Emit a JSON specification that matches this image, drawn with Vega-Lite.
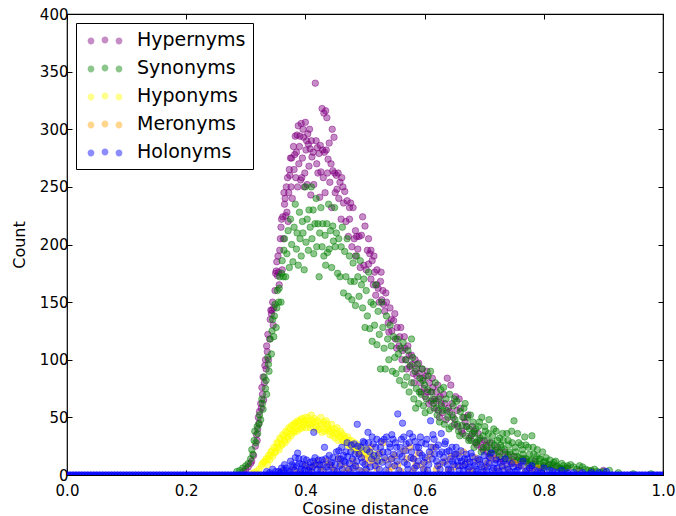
{"$schema":"https://vega.github.io/schema/vega-lite/v6.json","width":596,"height":461,"padding":{"left":67,"top":14,"right":13,"bottom":41},"autosize":{"type":"none"},"background":"white",
"config":{"view":{"stroke":"black","strokeWidth":1.2},"font":"DejaVu Sans","axis":{"grid":false,"domain":false,"tickColor":"black","tickSize":-5,"tickWidth":1,"labelColor":"black","titleColor":"black","labelFontSize":15,"titleFontSize":16,"titleFontWeight":"normal","labelPadding":13,"labelFlush":false,"labelFont":"DejaVu Sans","titleFont":"DejaVu Sans"}},
"resolve":{"axis":{"x":"independent","y":"independent"}},
"datasets":{
"base":[{"x":0,"y":0},{"x":0.005,"y":0},{"x":0.01,"y":0},{"x":0.015,"y":0},{"x":0.02,"y":0},{"x":0.025,"y":0},{"x":0.03,"y":0},{"x":0.035,"y":0},{"x":0.04,"y":0},{"x":0.045,"y":0},{"x":0.05,"y":0},{"x":0.055,"y":0},{"x":0.06,"y":0},{"x":0.065,"y":0},{"x":0.07,"y":0},{"x":0.075,"y":0},{"x":0.08,"y":0},{"x":0.085,"y":0},{"x":0.09,"y":0},{"x":0.095,"y":0},{"x":0.1,"y":0},{"x":0.105,"y":0},{"x":0.11,"y":0},{"x":0.115,"y":0},{"x":0.12,"y":0},{"x":0.125,"y":0},{"x":0.13,"y":0},{"x":0.135,"y":0},{"x":0.14,"y":0},{"x":0.145,"y":0},{"x":0.15,"y":0},{"x":0.155,"y":0},{"x":0.16,"y":0},{"x":0.165,"y":0},{"x":0.17,"y":0},{"x":0.175,"y":0},{"x":0.18,"y":0},{"x":0.185,"y":0},{"x":0.19,"y":0},{"x":0.195,"y":0},{"x":0.2,"y":0},{"x":0.205,"y":0},{"x":0.21,"y":0},{"x":0.215,"y":0},{"x":0.22,"y":0},{"x":0.225,"y":0},{"x":0.23,"y":0},{"x":0.235,"y":0},{"x":0.24,"y":0},{"x":0.245,"y":0},{"x":0.25,"y":0},{"x":0.255,"y":0},{"x":0.26,"y":0},{"x":0.265,"y":0},{"x":0.27,"y":0},{"x":0.275,"y":0},{"x":0.28,"y":0},{"x":0.285,"y":0},{"x":0.29,"y":0},{"x":0.295,"y":0},{"x":0.3,"y":0},{"x":0.305,"y":0},{"x":0.31,"y":0},{"x":0.315,"y":0},{"x":0.32,"y":0},{"x":0.325,"y":0},{"x":0.33,"y":0},{"x":0.335,"y":0},{"x":0.34,"y":0},{"x":0.345,"y":0},{"x":0.35,"y":0},{"x":0.355,"y":0},{"x":0.36,"y":0},{"x":0.365,"y":0},{"x":0.37,"y":0},{"x":0.375,"y":0},{"x":0.38,"y":0},{"x":0.385,"y":0},{"x":0.39,"y":0},{"x":0.395,"y":0},{"x":0.4,"y":0},{"x":0.405,"y":0},{"x":0.41,"y":0},{"x":0.415,"y":0},{"x":0.42,"y":0},{"x":0.425,"y":0},{"x":0.43,"y":0},{"x":0.435,"y":0},{"x":0.44,"y":0},{"x":0.445,"y":0},{"x":0.45,"y":0},{"x":0.455,"y":0},{"x":0.46,"y":0},{"x":0.465,"y":0},{"x":0.47,"y":0},{"x":0.475,"y":0},{"x":0.48,"y":0},{"x":0.485,"y":0},{"x":0.49,"y":0},{"x":0.495,"y":0},{"x":0.5,"y":0},{"x":0.505,"y":0},{"x":0.51,"y":0},{"x":0.515,"y":0},{"x":0.52,"y":0},{"x":0.525,"y":0},{"x":0.53,"y":0},{"x":0.535,"y":0},{"x":0.54,"y":0},{"x":0.545,"y":0},{"x":0.55,"y":0},{"x":0.555,"y":0},{"x":0.56,"y":0},{"x":0.565,"y":0},{"x":0.57,"y":0},{"x":0.575,"y":0},{"x":0.58,"y":0},{"x":0.585,"y":0},{"x":0.59,"y":0},{"x":0.595,"y":0},{"x":0.6,"y":0},{"x":0.605,"y":0},{"x":0.61,"y":0},{"x":0.615,"y":0},{"x":0.62,"y":0},{"x":0.625,"y":0},{"x":0.63,"y":0},{"x":0.635,"y":0},{"x":0.64,"y":0},{"x":0.645,"y":0},{"x":0.65,"y":0},{"x":0.655,"y":0},{"x":0.66,"y":0},{"x":0.665,"y":0},{"x":0.67,"y":0},{"x":0.675,"y":0},{"x":0.68,"y":0},{"x":0.685,"y":0},{"x":0.69,"y":0},{"x":0.695,"y":0},{"x":0.7,"y":0},{"x":0.705,"y":0},{"x":0.71,"y":0},{"x":0.715,"y":0},{"x":0.72,"y":0},{"x":0.725,"y":0},{"x":0.73,"y":0},{"x":0.735,"y":0},{"x":0.74,"y":0},{"x":0.745,"y":0},{"x":0.75,"y":0},{"x":0.755,"y":0},{"x":0.76,"y":0},{"x":0.765,"y":0},{"x":0.77,"y":0},{"x":0.775,"y":0},{"x":0.78,"y":0},{"x":0.785,"y":0},{"x":0.79,"y":0},{"x":0.795,"y":0},{"x":0.8,"y":0},{"x":0.805,"y":0},{"x":0.81,"y":0},{"x":0.815,"y":0},{"x":0.82,"y":0},{"x":0.825,"y":0},{"x":0.83,"y":0},{"x":0.835,"y":0},{"x":0.84,"y":0},{"x":0.845,"y":0},{"x":0.85,"y":0},{"x":0.855,"y":0},{"x":0.86,"y":0},{"x":0.865,"y":0},{"x":0.87,"y":0},{"x":0.875,"y":0},{"x":0.88,"y":0},{"x":0.885,"y":0},{"x":0.89,"y":0},{"x":0.895,"y":0},{"x":0.9,"y":0},{"x":0.905,"y":0},{"x":0.91,"y":0},{"x":0.915,"y":0},{"x":0.92,"y":0},{"x":0.925,"y":0},{"x":0.93,"y":0},{"x":0.935,"y":0},{"x":0.94,"y":0},{"x":0.945,"y":0},{"x":0.95,"y":0},{"x":0.955,"y":0},{"x":0.96,"y":0},{"x":0.965,"y":0},{"x":0.97,"y":0},{"x":0.975,"y":0},{"x":0.98,"y":0},{"x":0.985,"y":0},{"x":0.99,"y":0},{"x":0.995,"y":0},{"x":1,"y":0}],
"pur":[{"x":0.296,"y":3},{"x":0.3,"y":5},{"x":0.304,"y":7},{"x":0.308,"y":10},{"x":0.31,"y":12},{"x":0.313,"y":17},{"x":0.316,"y":25},{"x":0.318,"y":35},{"x":0.319,"y":30},{"x":0.32,"y":40},{"x":0.322,"y":45},{"x":0.323,"y":55},{"x":0.325,"y":62},{"x":0.326,"y":58},{"x":0.328,"y":70},{"x":0.329,"y":85},{"x":0.33,"y":65},{"x":0.331,"y":80},{"x":0.333,"y":100},{"x":0.334,"y":92},{"x":0.336,"y":107},{"x":0.337,"y":122},{"x":0.338,"y":100},{"x":0.34,"y":118},{"x":0.342,"y":143},{"x":0.343,"y":140},{"x":0.344,"y":143},{"x":0.346,"y":130},{"x":0.347,"y":145},{"x":0.349,"y":160},{"x":0.35,"y":175},{"x":0.351,"y":177},{"x":0.353,"y":173},{"x":0.354,"y":190},{"x":0.356,"y":165},{"x":0.357,"y":195},{"x":0.358,"y":205},{"x":0.36,"y":222},{"x":0.361,"y":178},{"x":0.362,"y":224},{"x":0.363,"y":205},{"x":0.364,"y":245},{"x":0.365,"y":235},{"x":0.366,"y":240},{"x":0.367,"y":225},{"x":0.368,"y":250},{"x":0.369,"y":228},{"x":0.37,"y":258},{"x":0.371,"y":220},{"x":0.372,"y":245},{"x":0.373,"y":265},{"x":0.374,"y":260},{"x":0.375,"y":275},{"x":0.376,"y":250},{"x":0.377,"y":275},{"x":0.378,"y":240},{"x":0.38,"y":285},{"x":0.381,"y":265},{"x":0.382,"y":278},{"x":0.383,"y":294},{"x":0.384,"y":258},{"x":0.385,"y":280},{"x":0.386,"y":295},{"x":0.387,"y":250},{"x":0.388,"y":303},{"x":0.389,"y":270},{"x":0.39,"y":285},{"x":0.391,"y":294},{"x":0.392,"y":256},{"x":0.393,"y":305},{"x":0.394,"y":258},{"x":0.395,"y":275},{"x":0.396,"y":300},{"x":0.397,"y":293},{"x":0.398,"y":250},{"x":0.399,"y":262},{"x":0.4,"y":306},{"x":0.401,"y":282},{"x":0.402,"y":290},{"x":0.403,"y":252},{"x":0.404,"y":296},{"x":0.405,"y":287},{"x":0.406,"y":268},{"x":0.407,"y":300},{"x":0.408,"y":283},{"x":0.409,"y":243},{"x":0.41,"y":290},{"x":0.411,"y":276},{"x":0.413,"y":280},{"x":0.414,"y":252},{"x":0.4166,"y":340},{"x":0.418,"y":290},{"x":0.419,"y":270},{"x":0.42,"y":284},{"x":0.421,"y":262},{"x":0.423,"y":279},{"x":0.424,"y":241},{"x":0.425,"y":286},{"x":0.426,"y":263},{"x":0.428,"y":318},{"x":0.429,"y":282},{"x":0.43,"y":258},{"x":0.431,"y":314},{"x":0.432,"y":280},{"x":0.433,"y":245},{"x":0.434,"y":316},{"x":0.435,"y":282},{"x":0.436,"y":310},{"x":0.437,"y":262},{"x":0.438,"y":274},{"x":0.44,"y":288},{"x":0.441,"y":254},{"x":0.443,"y":270},{"x":0.444,"y":232},{"x":0.445,"y":300},{"x":0.446,"y":264},{"x":0.448,"y":293},{"x":0.449,"y":262},{"x":0.45,"y":245},{"x":0.452,"y":260},{"x":0.453,"y":248},{"x":0.455,"y":262},{"x":0.456,"y":240},{"x":0.458,"y":254},{"x":0.46,"y":222},{"x":0.461,"y":258},{"x":0.463,"y":250},{"x":0.464,"y":236},{"x":0.466,"y":246},{"x":0.468,"y":220},{"x":0.47,"y":238},{"x":0.472,"y":207},{"x":0.474,"y":232},{"x":0.476,"y":236},{"x":0.478,"y":198},{"x":0.48,"y":232},{"x":0.482,"y":205},{"x":0.484,"y":190},{"x":0.486,"y":207},{"x":0.488,"y":196},{"x":0.49,"y":207},{"x":0.492,"y":180},{"x":0.494,"y":208},{"x":0.496,"y":224},{"x":0.498,"y":182},{"x":0.5,"y":216},{"x":0.502,"y":178},{"x":0.504,"y":195},{"x":0.506,"y":183},{"x":0.508,"y":192},{"x":0.51,"y":170},{"x":0.512,"y":186},{"x":0.514,"y":165},{"x":0.516,"y":176},{"x":0.518,"y":156},{"x":0.52,"y":178},{"x":0.522,"y":162},{"x":0.524,"y":150},{"x":0.526,"y":168},{"x":0.528,"y":152},{"x":0.53,"y":160},{"x":0.533,"y":142},{"x":0.536,"y":150},{"x":0.539,"y":132},{"x":0.542,"y":145},{"x":0.545,"y":125},{"x":0.548,"y":134},{"x":0.551,"y":118},{"x":0.554,"y":128},{"x":0.557,"y":112},{"x":0.56,"y":128},{"x":0.563,"y":108},{"x":0.566,"y":120},{"x":0.569,"y":100},{"x":0.572,"y":112},{"x":0.575,"y":94},{"x":0.578,"y":104},{"x":0.581,"y":88},{"x":0.584,"y":100},{"x":0.587,"y":86},{"x":0.59,"y":97},{"x":0.593,"y":80},{"x":0.596,"y":92},{"x":0.599,"y":75},{"x":0.602,"y":86},{"x":0.605,"y":72},{"x":0.608,"y":80},{"x":0.611,"y":64},{"x":0.614,"y":76},{"x":0.617,"y":66},{"x":0.62,"y":72},{"x":0.623,"y":56},{"x":0.626,"y":68},{"x":0.63,"y":54},{"x":0.634,"y":62},{"x":0.638,"y":84},{"x":0.642,"y":55},{"x":0.646,"y":62},{"x":0.65,"y":44},{"x":0.654,"y":56},{"x":0.658,"y":66},{"x":0.662,"y":38},{"x":0.666,"y":50},{"x":0.67,"y":42},{"x":0.675,"y":32},{"x":0.68,"y":42},{"x":0.685,"y":28},{"x":0.69,"y":36},{"x":0.695,"y":24},{"x":0.7,"y":30},{"x":0.705,"y":20},{"x":0.71,"y":28},{"x":0.716,"y":18},{"x":0.722,"y":24},{"x":0.728,"y":14},{"x":0.735,"y":20},{"x":0.742,"y":12},{"x":0.75,"y":16},{"x":0.758,"y":9},{"x":0.765,"y":14},{"x":0.775,"y":8},{"x":0.785,"y":12},{"x":0.795,"y":6},{"x":0.81,"y":9},{"x":0.83,"y":5},{"x":0.86,"y":4},{"x":0.9,"y":4},
{"x":0.321,"y":50},{"x":0.327,"y":76},{"x":0.332,"y":95},{"x":0.335,"y":112},{"x":0.341,"y":135},{"x":0.345,"y":150},{"x":0.352,"y":185},{"x":0.355,"y":176},{"x":0.359,"y":215},{"x":0.474,"y":222},{"x":0.484,"y":212},{"x":0.506,"y":205},{"x":0.51,"y":195},{"x":0.515,"y":190},{"x":0.52,"y":165},{"x":0.527,"y":176},{"x":0.531,"y":148},{"x":0.535,"y":158},{"x":0.54,"y":124},{"x":0.544,"y":135},{"x":0.55,"y":140},{"x":0.553,"y":110},{"x":0.558,"y":120},{"x":0.562,"y":100},{"x":0.567,"y":110},{"x":0.57,"y":92},{"x":0.574,"y":104},{"x":0.579,"y":96},{"x":0.582,"y":80},{"x":0.586,"y":92},{"x":0.591,"y":88},{"x":0.594,"y":72},{"x":0.598,"y":84},{"x":0.601,"y":68},{"x":0.604,"y":90},{"x":0.607,"y":62},{"x":0.61,"y":72},{"x":0.613,"y":84},{"x":0.616,"y":58},{"x":0.619,"y":64},{"x":0.622,"y":78},{"x":0.625,"y":50},{"x":0.628,"y":62},{"x":0.632,"y":70},{"x":0.636,"y":48},{"x":0.64,"y":58},{"x":0.644,"y":78},{"x":0.648,"y":50},{"x":0.652,"y":68},{"x":0.656,"y":42},{"x":0.66,"y":58},{"x":0.664,"y":36},{"x":0.668,"y":46},{"x":0.673,"y":52},{"x":0.678,"y":34},{"x":0.683,"y":38},{"x":0.688,"y":26},{"x":0.693,"y":30},{"x":0.698,"y":22},{"x":0.703,"y":26},{"x":0.708,"y":16},{"x":0.713,"y":22},{"x":0.72,"y":14},{"x":0.726,"y":20},{"x":0.732,"y":12},{"x":0.74,"y":17},{"x":0.748,"y":11},{"x":0.756,"y":13},{"x":0.77,"y":12},{"x":0.78,"y":6},{"x":0.8,"y":8},{"x":0.82,"y":7},{"x":0.84,"y":6},{"x":0.88,"y":3}],
"grn":[{"x":0.285,"y":3},{"x":0.29,"y":4},{"x":0.295,"y":6},{"x":0.3,"y":8},{"x":0.304,"y":10},{"x":0.308,"y":14},{"x":0.31,"y":22},{"x":0.312,"y":18},{"x":0.315,"y":38},{"x":0.317,"y":28},{"x":0.319,"y":42},{"x":0.32,"y":36},{"x":0.323,"y":52},{"x":0.325,"y":48},{"x":0.327,"y":66},{"x":0.329,"y":57},{"x":0.331,"y":85},{"x":0.333,"y":75},{"x":0.335,"y":70},{"x":0.337,"y":102},{"x":0.339,"y":90},{"x":0.341,"y":118},{"x":0.343,"y":105},{"x":0.345,"y":135},{"x":0.347,"y":120},{"x":0.349,"y":148},{"x":0.351,"y":128},{"x":0.353,"y":160},{"x":0.355,"y":150},{"x":0.357,"y":172},{"x":0.359,"y":150},{"x":0.361,"y":186},{"x":0.363,"y":172},{"x":0.365,"y":205},{"x":0.367,"y":172},{"x":0.369,"y":192},{"x":0.371,"y":212},{"x":0.373,"y":180},{"x":0.375,"y":222},{"x":0.377,"y":200},{"x":0.379,"y":185},{"x":0.381,"y":215},{"x":0.383,"y":235},{"x":0.385,"y":196},{"x":0.386,"y":210},{"x":0.388,"y":182},{"x":0.39,"y":228},{"x":0.391,"y":205},{"x":0.393,"y":190},{"x":0.395,"y":220},{"x":0.396,"y":210},{"x":0.398,"y":178},{"x":0.4,"y":250},{"x":0.401,"y":202},{"x":0.403,"y":222},{"x":0.405,"y":195},{"x":0.406,"y":230},{"x":0.408,"y":215},{"x":0.41,"y":250},{"x":0.411,"y":205},{"x":0.413,"y":230},{"x":0.414,"y":192},{"x":0.416,"y":218},{"x":0.418,"y":240},{"x":0.419,"y":198},{"x":0.421,"y":218},{"x":0.423,"y":172},{"x":0.424,"y":210},{"x":0.426,"y":232},{"x":0.428,"y":198},{"x":0.429,"y":218},{"x":0.431,"y":190},{"x":0.433,"y":208},{"x":0.434,"y":182},{"x":0.436,"y":218},{"x":0.437,"y":193},{"x":0.439,"y":235},{"x":0.44,"y":196},{"x":0.442,"y":212},{"x":0.444,"y":180},{"x":0.446,"y":216},{"x":0.447,"y":203},{"x":0.449,"y":232},{"x":0.45,"y":198},{"x":0.452,"y":210},{"x":0.454,"y":175},{"x":0.456,"y":205},{"x":0.458,"y":172},{"x":0.46,"y":198},{"x":0.462,"y":215},{"x":0.464,"y":158},{"x":0.466,"y":194},{"x":0.468,"y":172},{"x":0.47,"y":205},{"x":0.472,"y":155},{"x":0.474,"y":190},{"x":0.476,"y":168},{"x":0.478,"y":152},{"x":0.48,"y":184},{"x":0.482,"y":168},{"x":0.484,"y":147},{"x":0.486,"y":190},{"x":0.488,"y":172},{"x":0.49,"y":155},{"x":0.492,"y":186},{"x":0.494,"y":165},{"x":0.496,"y":145},{"x":0.498,"y":170},{"x":0.5,"y":128},{"x":0.502,"y":160},{"x":0.504,"y":138},{"x":0.506,"y":176},{"x":0.508,"y":127},{"x":0.51,"y":150},{"x":0.512,"y":116},{"x":0.514,"y":148},{"x":0.516,"y":130},{"x":0.518,"y":165},{"x":0.52,"y":113},{"x":0.522,"y":142},{"x":0.524,"y":122},{"x":0.526,"y":92},{"x":0.528,"y":150},{"x":0.53,"y":128},{"x":0.532,"y":110},{"x":0.534,"y":92},{"x":0.536,"y":138},{"x":0.538,"y":118},{"x":0.54,"y":100},{"x":0.542,"y":130},{"x":0.544,"y":112},{"x":0.546,"y":90},{"x":0.548,"y":120},{"x":0.55,"y":102},{"x":0.552,"y":88},{"x":0.554,"y":118},{"x":0.556,"y":105},{"x":0.558,"y":82},{"x":0.56,"y":110},{"x":0.562,"y":92},{"x":0.564,"y":115},{"x":0.566,"y":78},{"x":0.568,"y":100},{"x":0.57,"y":85},{"x":0.572,"y":108},{"x":0.574,"y":72},{"x":0.576,"y":95},{"x":0.578,"y":80},{"x":0.58,"y":102},{"x":0.582,"y":66},{"x":0.584,"y":90},{"x":0.586,"y":75},{"x":0.588,"y":96},{"x":0.59,"y":62},{"x":0.592,"y":84},{"x":0.594,"y":70},{"x":0.596,"y":92},{"x":0.598,"y":60},{"x":0.6,"y":78},{"x":0.603,"y":66},{"x":0.606,"y":86},{"x":0.609,"y":56},{"x":0.612,"y":72},{"x":0.615,"y":62},{"x":0.618,"y":80},{"x":0.621,"y":52},{"x":0.624,"y":66},{"x":0.627,"y":74},{"x":0.63,"y":56},{"x":0.633,"y":44},{"x":0.636,"y":66},{"x":0.639,"y":50},{"x":0.642,"y":70},{"x":0.645,"y":42},{"x":0.648,"y":60},{"x":0.651,"y":48},{"x":0.654,"y":64},{"x":0.657,"y":38},{"x":0.66,"y":55},{"x":0.663,"y":43},{"x":0.666,"y":58},{"x":0.669,"y":34},{"x":0.672,"y":50},{"x":0.675,"y":40},{"x":0.678,"y":30},{"x":0.681,"y":46},{"x":0.684,"y":36},{"x":0.687,"y":28},{"x":0.69,"y":42},{"x":0.693,"y":32},{"x":0.696,"y":50},{"x":0.699,"y":24},{"x":0.702,"y":38},{"x":0.705,"y":30},{"x":0.708,"y":48},{"x":0.711,"y":22},{"x":0.714,"y":34},{"x":0.717,"y":26},{"x":0.72,"y":38},{"x":0.723,"y":20},{"x":0.726,"y":32},{"x":0.729,"y":24},{"x":0.732,"y":30},{"x":0.735,"y":18},{"x":0.738,"y":36},{"x":0.741,"y":26},{"x":0.744,"y":18},{"x":0.747,"y":28},{"x":0.75,"y":47},{"x":0.753,"y":20},{"x":0.756,"y":36},{"x":0.759,"y":15},{"x":0.762,"y":26},{"x":0.765,"y":18},{"x":0.768,"y":33},{"x":0.771,"y":14},{"x":0.774,"y":24},{"x":0.777,"y":12},{"x":0.78,"y":34},{"x":0.783,"y":18},{"x":0.786,"y":10},{"x":0.789,"y":22},{"x":0.792,"y":14},{"x":0.795,"y":8},{"x":0.798,"y":20},{"x":0.802,"y":12},{"x":0.806,"y":7},{"x":0.81,"y":13},{"x":0.815,"y":9},{"x":0.82,"y":12},{"x":0.825,"y":6},{"x":0.83,"y":10},{"x":0.835,"y":5},{"x":0.84,"y":8},{"x":0.85,"y":7},{"x":0.86,"y":8},{"x":0.87,"y":5},{"x":0.88,"y":4},{"x":0.89,"y":3},{"x":0.9,"y":3},{"x":0.91,"y":4},{"x":0.925,"y":2},{"x":0.95,"y":1},{"x":0.98,"y":1},
{"x":0.314,"y":30},{"x":0.322,"y":44},{"x":0.328,"y":62},{"x":0.334,"y":82},{"x":0.338,"y":96},{"x":0.344,"y":125},{"x":0.348,"y":138},{"x":0.352,"y":145},{"x":0.356,"y":162},{"x":0.36,"y":175},{"x":0.364,"y":195},{"x":0.578,"y":118},{"x":0.585,"y":58},{"x":0.591,"y":72},{"x":0.597,"y":82},{"x":0.601,"y":54},{"x":0.605,"y":74},{"x":0.61,"y":90},{"x":0.614,"y":66},{"x":0.62,"y":58},{"x":0.625,"y":46},{"x":0.628,"y":60},{"x":0.632,"y":76},{"x":0.637,"y":56},{"x":0.641,"y":40},{"x":0.646,"y":52},{"x":0.65,"y":66},{"x":0.655,"y":44},{"x":0.659,"y":34},{"x":0.664,"y":50},{"x":0.668,"y":62},{"x":0.671,"y":42},{"x":0.674,"y":30},{"x":0.677,"y":52},{"x":0.68,"y":36},{"x":0.683,"y":24},{"x":0.686,"y":40},{"x":0.689,"y":30},{"x":0.692,"y":46},{"x":0.695,"y":20},{"x":0.698,"y":34},{"x":0.701,"y":42},{"x":0.704,"y":24},{"x":0.707,"y":36},{"x":0.71,"y":18},{"x":0.713,"y":28},{"x":0.716,"y":40},{"x":0.719,"y":22},{"x":0.722,"y":30},{"x":0.725,"y":16},{"x":0.728,"y":26},{"x":0.731,"y":36},{"x":0.734,"y":22},{"x":0.737,"y":14},{"x":0.74,"y":30},{"x":0.743,"y":20},{"x":0.746,"y":38},{"x":0.749,"y":13},{"x":0.752,"y":24},{"x":0.755,"y":16},{"x":0.758,"y":28},{"x":0.761,"y":12},{"x":0.764,"y":22},{"x":0.767,"y":14},{"x":0.77,"y":26},{"x":0.773,"y":10},{"x":0.776,"y":18},{"x":0.779,"y":13},{"x":0.782,"y":24},{"x":0.785,"y":9},{"x":0.788,"y":16},{"x":0.791,"y":9},{"x":0.794,"y":14},{"x":0.797,"y":6},{"x":0.8,"y":11},{"x":0.804,"y":15},{"x":0.808,"y":9},{"x":0.812,"y":6},{"x":0.817,"y":11},{"x":0.822,"y":8},{"x":0.828,"y":6},{"x":0.833,"y":8},{"x":0.838,"y":6},{"x":0.845,"y":9},{"x":0.855,"y":5},{"x":0.865,"y":7},{"x":0.875,"y":4},{"x":0.885,"y":5},{"x":0.895,"y":2}],
"yel":[{"x":0.31,"y":1},{"x":0.314,"y":2},{"x":0.318,"y":3},{"x":0.322,"y":5},{"x":0.326,"y":8},{"x":0.33,"y":11},{"x":0.334,"y":14},{"x":0.336,"y":9},{"x":0.338,"y":17},{"x":0.34,"y":13},{"x":0.342,"y":20},{"x":0.345,"y":16},{"x":0.347,"y":24},{"x":0.35,"y":20},{"x":0.352,"y":28},{"x":0.355,"y":24},{"x":0.357,"y":32},{"x":0.36,"y":27},{"x":0.362,"y":35},{"x":0.365,"y":30},{"x":0.367,"y":38},{"x":0.37,"y":33},{"x":0.372,"y":41},{"x":0.375,"y":36},{"x":0.377,"y":43},{"x":0.38,"y":38},{"x":0.382,"y":45},{"x":0.385,"y":40},{"x":0.387,"y":47},{"x":0.39,"y":42},{"x":0.392,"y":48},{"x":0.395,"y":41},{"x":0.397,"y":46},{"x":0.4,"y":50},{"x":0.402,"y":44},{"x":0.405,"y":47},{"x":0.408,"y":41},{"x":0.41,"y":52},{"x":0.412,"y":45},{"x":0.415,"y":49},{"x":0.418,"y":42},{"x":0.42,"y":47},{"x":0.423,"y":40},{"x":0.426,"y":50},{"x":0.429,"y":44},{"x":0.432,"y":38},{"x":0.435,"y":47},{"x":0.438,"y":41},{"x":0.441,"y":35},{"x":0.444,"y":44},{"x":0.447,"y":37},{"x":0.45,"y":32},{"x":0.453,"y":41},{"x":0.456,"y":35},{"x":0.459,"y":38},{"x":0.462,"y":30},{"x":0.465,"y":34},{"x":0.468,"y":28},{"x":0.471,"y":33},{"x":0.474,"y":27},{"x":0.477,"y":30},{"x":0.48,"y":24},{"x":0.483,"y":28},{"x":0.486,"y":22},{"x":0.489,"y":26},{"x":0.492,"y":21},{"x":0.496,"y":24},{"x":0.5,"y":19},{"x":0.505,"y":22},{"x":0.51,"y":16},{"x":0.516,"y":18},{"x":0.525,"y":12},
{"x":0.328,"y":10},{"x":0.332,"y":12},{"x":0.337,"y":14},{"x":0.341,"y":17},{"x":0.344,"y":21},{"x":0.348,"y":19},{"x":0.351,"y":24},{"x":0.354,"y":28},{"x":0.356,"y":22},{"x":0.359,"y":31},{"x":0.361,"y":26},{"x":0.364,"y":34},{"x":0.366,"y":28},{"x":0.369,"y":37},{"x":0.371,"y":31},{"x":0.374,"y":40},{"x":0.376,"y":34},{"x":0.379,"y":43},{"x":0.381,"y":37},{"x":0.384,"y":45},{"x":0.386,"y":38},{"x":0.389,"y":46},{"x":0.391,"y":40},{"x":0.394,"y":49},{"x":0.396,"y":43},{"x":0.399,"y":47},{"x":0.401,"y":41},{"x":0.404,"y":50},{"x":0.407,"y":44},{"x":0.411,"y":47},{"x":0.414,"y":41},{"x":0.417,"y":46},{"x":0.421,"y":39},{"x":0.425,"y":44},{"x":0.428,"y":37},{"x":0.431,"y":46},{"x":0.434,"y":40},{"x":0.437,"y":44},{"x":0.44,"y":38},{"x":0.443,"y":40},{"x":0.446,"y":34},{"x":0.449,"y":40},{"x":0.452,"y":36},{"x":0.455,"y":30},{"x":0.458,"y":33},{"x":0.461,"y":36},{"x":0.464,"y":29},{"x":0.467,"y":32},{"x":0.47,"y":26},{"x":0.473,"y":30},{"x":0.476,"y":24},{"x":0.479,"y":27},{"x":0.482,"y":22},{"x":0.485,"y":25},{"x":0.488,"y":20},{"x":0.491,"y":23},{"x":0.494,"y":19},{"x":0.498,"y":21},{"x":0.503,"y":17},{"x":0.508,"y":19},{"x":0.513,"y":14},{"x":0.52,"y":15}],
"ora":[{"x":0.36,"y":3},{"x":0.38,"y":5},{"x":0.4,"y":9},{"x":0.41,"y":6},{"x":0.42,"y":12},{"x":0.43,"y":4},{"x":0.44,"y":9},{"x":0.45,"y":3},{"x":0.455,"y":14},{"x":0.47,"y":6},{"x":0.475,"y":3},{"x":0.49,"y":18},{"x":0.495,"y":3},{"x":0.505,"y":10},{"x":0.51,"y":24},{"x":0.52,"y":6},{"x":0.53,"y":28},{"x":0.535,"y":13},{"x":0.545,"y":7},{"x":0.55,"y":17},{"x":0.56,"y":3},{"x":0.57,"y":14},{"x":0.575,"y":24},{"x":0.585,"y":8},{"x":0.59,"y":19},{"x":0.6,"y":4},{"x":0.605,"y":13},{"x":0.615,"y":24},{"x":0.625,"y":9},{"x":0.64,"y":4},{"x":0.645,"y":16},{"x":0.66,"y":8},{"x":0.665,"y":20},{"x":0.68,"y":4},{"x":0.69,"y":12},{"x":0.7,"y":6},{"x":0.715,"y":14},{"x":0.73,"y":7},{"x":0.75,"y":10},{"x":0.77,"y":4},{"x":0.79,"y":6},
{"x":0.39,"y":2},{"x":0.405,"y":4},{"x":0.415,"y":9},{"x":0.425,"y":7},{"x":0.435,"y":12},{"x":0.445,"y":7},{"x":0.46,"y":9},{"x":0.465,"y":2},{"x":0.48,"y":12},{"x":0.485,"y":7},{"x":0.5,"y":14},{"x":0.503,"y":3},{"x":0.515,"y":12},{"x":0.525,"y":19},{"x":0.54,"y":3},{"x":0.545,"y":14},{"x":0.555,"y":9},{"x":0.565,"y":21},{"x":0.58,"y":3},{"x":0.582,"y":14},{"x":0.595,"y":9},{"x":0.61,"y":18},{"x":0.62,"y":5},{"x":0.635,"y":12},{"x":0.65,"y":7},{"x":0.655,"y":18},{"x":0.67,"y":11},{"x":0.675,"y":3},{"x":0.685,"y":15},{"x":0.705,"y":10},{"x":0.72,"y":4},{"x":0.74,"y":6},{"x":0.76,"y":8},{"x":0.78,"y":3}],
"blu":[{"x":0.335,"y":3},{"x":0.345,"y":5},{"x":0.355,"y":3},{"x":0.36,"y":6},{"x":0.365,"y":9},{"x":0.37,"y":4},{"x":0.375,"y":12},{"x":0.38,"y":7},{"x":0.383,"y":15},{"x":0.387,"y":19},{"x":0.39,"y":10},{"x":0.393,"y":5},{"x":0.397,"y":14},{"x":0.4,"y":8},{"x":0.405,"y":4},{"x":0.408,"y":11},{"x":0.412,"y":7},{"x":0.414,"y":37},{"x":0.416,"y":15},{"x":0.42,"y":5},{"x":0.424,"y":9},{"x":0.428,"y":13},{"x":0.432,"y":24},{"x":0.436,"y":7},{"x":0.44,"y":17},{"x":0.444,"y":11},{"x":0.448,"y":4},{"x":0.452,"y":20},{"x":0.455,"y":14},{"x":0.458,"y":8},{"x":0.461,"y":24},{"x":0.464,"y":17},{"x":0.467,"y":11},{"x":0.47,"y":28},{"x":0.473,"y":5},{"x":0.476,"y":20},{"x":0.479,"y":14},{"x":0.482,"y":27},{"x":0.484,"y":8},{"x":0.487,"y":44},{"x":0.49,"y":18},{"x":0.493,"y":24},{"x":0.496,"y":11},{"x":0.499,"y":28},{"x":0.502,"y":5},{"x":0.505,"y":37},{"x":0.508,"y":20},{"x":0.511,"y":14},{"x":0.514,"y":27},{"x":0.517,"y":8},{"x":0.52,"y":31},{"x":0.523,"y":18},{"x":0.526,"y":24},{"x":0.529,"y":11},{"x":0.532,"y":31},{"x":0.535,"y":4},{"x":0.538,"y":20},{"x":0.541,"y":27},{"x":0.544,"y":14},{"x":0.547,"y":31},{"x":0.55,"y":8},{"x":0.553,"y":24},{"x":0.555,"y":53},{"x":0.558,"y":18},{"x":0.561,"y":31},{"x":0.563,"y":45},{"x":0.566,"y":11},{"x":0.569,"y":27},{"x":0.572,"y":5},{"x":0.575,"y":36},{"x":0.578,"y":20},{"x":0.581,"y":14},{"x":0.584,"y":29},{"x":0.587,"y":8},{"x":0.59,"y":24},{"x":0.593,"y":33},{"x":0.596,"y":17},{"x":0.599,"y":11},{"x":0.602,"y":27},{"x":0.605,"y":4},{"x":0.608,"y":20},{"x":0.61,"y":47},{"x":0.613,"y":14},{"x":0.616,"y":31},{"x":0.619,"y":24},{"x":0.622,"y":8},{"x":0.625,"y":18},{"x":0.628,"y":36},{"x":0.631,"y":11},{"x":0.634,"y":27},{"x":0.637,"y":20},{"x":0.64,"y":5},{"x":0.643,"y":14},{"x":0.646,"y":24},{"x":0.649,"y":9},{"x":0.652,"y":18},{"x":0.655,"y":12},{"x":0.658,"y":4},{"x":0.661,"y":21},{"x":0.664,"y":8},{"x":0.667,"y":14},{"x":0.67,"y":18},{"x":0.673,"y":5},{"x":0.676,"y":11},{"x":0.68,"y":16},{"x":0.684,"y":8},{"x":0.688,"y":3},{"x":0.692,"y":13},{"x":0.696,"y":7},{"x":0.7,"y":17},{"x":0.704,"y":4},{"x":0.708,"y":10},{"x":0.712,"y":19},{"x":0.716,"y":6},{"x":0.72,"y":13},{"x":0.725,"y":3},{"x":0.73,"y":8},{"x":0.735,"y":14},{"x":0.74,"y":5},{"x":0.746,"y":10},{"x":0.752,"y":3},{"x":0.758,"y":7},{"x":0.765,"y":12},{"x":0.772,"y":4},{"x":0.78,"y":8},{"x":0.79,"y":3},{"x":0.8,"y":6},{"x":0.815,"y":3},{"x":0.83,"y":4},{"x":0.85,"y":2},{"x":0.88,"y":2},{"x":0.905,"y":3},
{"x":0.34,"y":2},{"x":0.35,"y":3},{"x":0.358,"y":2},{"x":0.363,"y":4},{"x":0.368,"y":6},{"x":0.373,"y":3},{"x":0.378,"y":9},{"x":0.382,"y":4},{"x":0.385,"y":8},{"x":0.389,"y":14},{"x":0.392,"y":3},{"x":0.395,"y":9},{"x":0.399,"y":4},{"x":0.402,"y":13},{"x":0.407,"y":7},{"x":0.41,"y":3},{"x":0.413,"y":12},{"x":0.418,"y":9},{"x":0.422,"y":13},{"x":0.426,"y":4},{"x":0.43,"y":9},{"x":0.434,"y":14},{"x":0.438,"y":4},{"x":0.442,"y":9},{"x":0.446,"y":15},{"x":0.45,"y":9},{"x":0.453,"y":3},{"x":0.456,"y":21},{"x":0.459,"y":14},{"x":0.462,"y":5},{"x":0.465,"y":12},{"x":0.468,"y":20},{"x":0.471,"y":16},{"x":0.474,"y":10},{"x":0.477,"y":26},{"x":0.48,"y":6},{"x":0.483,"y":18},{"x":0.486,"y":12},{"x":0.488,"y":25},{"x":0.491,"y":4},{"x":0.494,"y":15},{"x":0.497,"y":29},{"x":0.5,"y":9},{"x":0.503,"y":22},{"x":0.506,"y":28},{"x":0.509,"y":7},{"x":0.512,"y":33},{"x":0.515,"y":17},{"x":0.518,"y":24},{"x":0.521,"y":12},{"x":0.524,"y":5},{"x":0.527,"y":29},{"x":0.53,"y":20},{"x":0.533,"y":15},{"x":0.536,"y":33},{"x":0.539,"y":9},{"x":0.542,"y":24},{"x":0.545,"y":35},{"x":0.548,"y":18},{"x":0.551,"y":28},{"x":0.554,"y":12},{"x":0.557,"y":4},{"x":0.559,"y":24},{"x":0.562,"y":16},{"x":0.565,"y":33},{"x":0.568,"y":21},{"x":0.571,"y":9},{"x":0.574,"y":28},{"x":0.577,"y":15},{"x":0.58,"y":33},{"x":0.583,"y":6},{"x":0.586,"y":24},{"x":0.589,"y":12},{"x":0.592,"y":19},{"x":0.595,"y":28},{"x":0.598,"y":5},{"x":0.601,"y":15},{"x":0.604,"y":31},{"x":0.607,"y":9},{"x":0.611,"y":24},{"x":0.614,"y":35},{"x":0.617,"y":18},{"x":0.62,"y":12},{"x":0.623,"y":26},{"x":0.626,"y":5},{"x":0.629,"y":20},{"x":0.632,"y":15},{"x":0.635,"y":29},{"x":0.638,"y":9},{"x":0.641,"y":21},{"x":0.644,"y":4},{"x":0.647,"y":12},{"x":0.65,"y":18},{"x":0.653,"y":24},{"x":0.656,"y":8},{"x":0.659,"y":15},{"x":0.662,"y":12},{"x":0.665,"y":4},{"x":0.668,"y":9},{"x":0.672,"y":14},{"x":0.675,"y":7},{"x":0.678,"y":19},{"x":0.682,"y":11},{"x":0.686,"y":5},{"x":0.69,"y":14},{"x":0.694,"y":9},{"x":0.698,"y":3},{"x":0.702,"y":12},{"x":0.706,"y":7},{"x":0.71,"y":15},{"x":0.714,"y":4},{"x":0.718,"y":10},{"x":0.722,"y":6},{"x":0.727,"y":11},{"x":0.732,"y":4},{"x":0.738,"y":9},{"x":0.743,"y":3},{"x":0.749,"y":7},{"x":0.755,"y":4},{"x":0.762,"y":8},{"x":0.769,"y":3},{"x":0.776,"y":6},{"x":0.785,"y":4},{"x":0.795,"y":2},{"x":0.81,"y":4},{"x":0.822,"y":2},{"x":0.84,"y":2},{"x":0.865,"y":2},{"x":0.892,"y":2}]
},
"layer":[
{"data":{"name":"pur"},"mark":{"type":"circle","size":42,"fillOpacity":0.45,"strokeOpacity":0.45,"strokeWidth":1,"clip":true},
"encoding":{"x":{"field":"x","type":"quantitative","scale":{"domain":[0,1],"nice":false},"axis":{"title":"Cosine distance","values":[0,0.2,0.4,0.6,0.8,1],"format":".1f","titlePadding":2}},
"y":{"field":"y","type":"quantitative","scale":{"domain":[0,400],"nice":false},"axis":{"title":"Count","values":[0,50,100,150,200,250,300,350,400],"labelPadding":4,"titlePadding":12}},
"color":{"datum":"Hypernyms","type":"nominal","scale":{"domain":["Hypernyms","Synonyms","Hyponyms","Meronyms","Holonyms"],"range":["#800080","#008000","#ffff00","#ffa500","#0000ff"]},
"legend":{"title":null,"orient":"none","legendX":9,"legendY":9,"fillColor":"white","strokeColor":"black","padding":7,"rowPadding":8,"labelFontSize":19,"labelFont":"DejaVu Sans","labelColor":"black","labelOffset":22,"symbolOffset":12,"symbolSize":400,"symbolOpacity":0.45,"symbolStrokeWidth":0,"symbolType":"M-1.74,0.1a0.34,0.34 0 1,0 0.68,0a0.34,0.34 0 1,0 -0.68,0M-0.34,0a0.34,0.34 0 1,0 0.68,0a0.34,0.34 0 1,0 -0.68,0M1.06,0.1a0.34,0.34 0 1,0 0.68,0a0.34,0.34 0 1,0 -0.68,0"}},
"stroke":{"datum":"Hypernyms","type":"nominal","scale":{"domain":["Hypernyms","Synonyms","Hyponyms","Meronyms","Holonyms"],"range":["#800080","#008000","#ffff00","#ffa500","#0000ff"]},"legend":null}}},
{"data":{"name":"grn"},"mark":{"type":"circle","size":42,"fillOpacity":0.45,"strokeOpacity":0.45,"strokeWidth":1,"clip":true},"encoding":{"x":{"field":"x","type":"quantitative","axis":null},"y":{"field":"y","type":"quantitative","axis":null},"color":{"datum":"Synonyms","type":"nominal"},"stroke":{"datum":"Synonyms","type":"nominal"}}},
{"data":{"name":"yel"},"mark":{"type":"circle","size":42,"fillOpacity":0.45,"strokeOpacity":0.45,"strokeWidth":1,"clip":true},"encoding":{"x":{"field":"x","type":"quantitative","axis":null},"y":{"field":"y","type":"quantitative","axis":null},"color":{"datum":"Hyponyms","type":"nominal"},"stroke":{"datum":"Hyponyms","type":"nominal"}}},
{"data":{"name":"ora"},"mark":{"type":"circle","size":42,"fillOpacity":0.45,"strokeOpacity":0.45,"strokeWidth":1,"clip":true},"encoding":{"x":{"field":"x","type":"quantitative","axis":null},"y":{"field":"y","type":"quantitative","axis":null},"color":{"datum":"Meronyms","type":"nominal"},"stroke":{"datum":"Meronyms","type":"nominal"}}},
{"data":{"name":"blu"},"mark":{"type":"circle","size":42,"fillOpacity":0.45,"strokeOpacity":0.45,"strokeWidth":1,"clip":true},"encoding":{"x":{"field":"x","type":"quantitative","axis":null},"y":{"field":"y","type":"quantitative","axis":null},"color":{"datum":"Holonyms","type":"nominal"},"stroke":{"datum":"Holonyms","type":"nominal"}}},
{"data":{"name":"base"},"mark":{"type":"circle","size":42,"fillOpacity":0.7,"strokeOpacity":0.7,"strokeWidth":1,"clip":true},"encoding":{"x":{"field":"x","type":"quantitative","axis":{"orient":"top","labels":false,"title":null,"values":[0,0.2,0.4,0.6,0.8,1]}},"y":{"field":"y","type":"quantitative","axis":{"orient":"right","labels":false,"title":null,"values":[0,50,100,150,200,250,300,350,400]}},"color":{"datum":"Holonyms","type":"nominal"},"stroke":{"datum":"Holonyms","type":"nominal"}}}
]}
